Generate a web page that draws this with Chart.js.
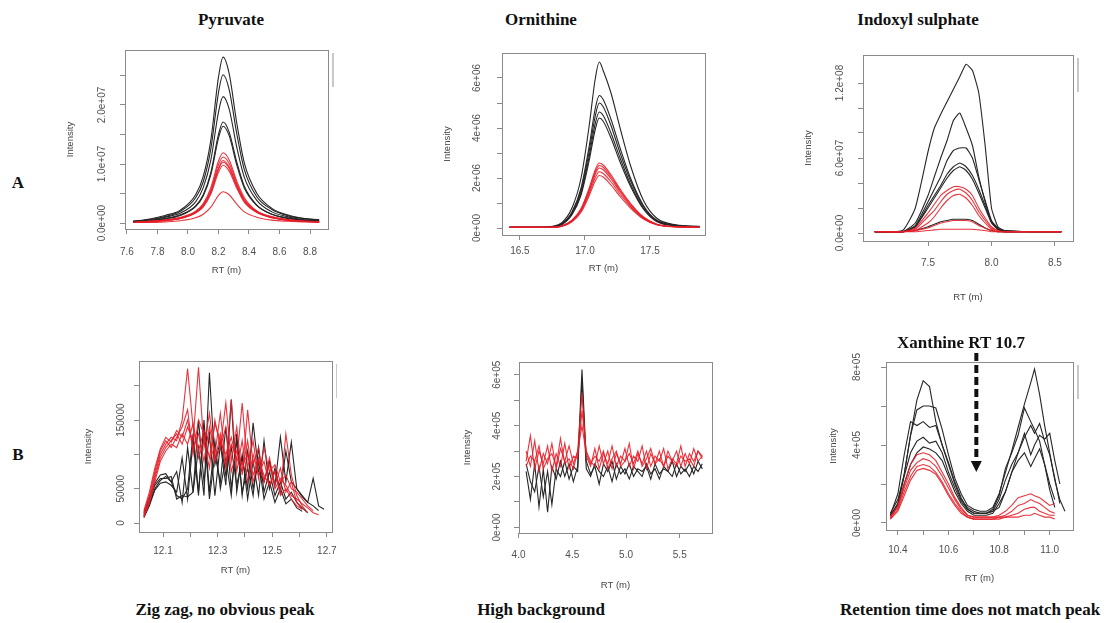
<!DOCTYPE html>
<html lang="en">
<head>
<meta charset="UTF-8">
<title>Peak shapes</title>
<script src="https://cdn.jsdelivr.net/npm/chart.js"></script>
<style>
  body { margin: 0; background: #fff; }
  #page { position: relative; width: 1120px; height: 623px; overflow: hidden; background: #fff; }
  .panel { position: absolute; }
  .lbl {
    position: absolute; white-space: nowrap; color: #111;
    font-family: "Liberation Serif", "DejaVu Serif", serif; font-weight: bold; font-size: 17px;
    transform: translate(-50%, -50%);
  }
</style>
</head>
<body>
<div id="page"></div>

<script>
  // ---- data (y in the units noted) ----
  // A: Pyruvate (1e6)
  const pyrX = [7.64, 7.75, 7.85, 7.95, 8.05, 8.10, 8.15, 8.20, 8.23, 8.27, 8.32, 8.37, 8.45, 8.55, 8.65, 8.75, 8.86];
  const pyrBlack = [
    [0.3, 0.7, 1.3, 2.2, 4.8, 7.9, 14.1, 24.7, 28.1, 25.3, 16.9, 10.1, 5.1, 2.5, 1.4, 0.8, 0.6],
    [0.3, 0.6, 1.1, 2.0, 4.3, 7.0, 12.6, 22.1, 25.1, 22.6, 15.1, 9.0, 4.5, 2.3, 1.3, 0.8, 0.5],
    [0.3, 0.5, 1.0, 1.7, 3.6, 6.0, 10.7, 18.8, 21.4, 19.3, 12.8, 7.7, 3.9, 1.9, 1.1, 0.6, 0.4],
    [0.2, 0.4, 0.8, 1.4, 2.9, 4.8, 8.6, 15.0, 17.1, 15.4, 10.3, 6.2, 3.1, 1.5, 0.9, 0.5, 0.3],
    [0.2, 0.4, 0.7, 1.3, 2.8, 4.6, 8.2, 14.4, 16.4, 14.8, 9.8, 5.9, 3.0, 1.5, 0.8, 0.5, 0.3]
  ];
  const pyrRed = [
    [0.1, 0.3, 0.5, 1.0, 2.0, 3.3, 6.0, 10.5, 11.9, 10.7, 7.1, 4.3, 2.1, 1.1, 0.6, 0.4, 0.2],
    [0.1, 0.3, 0.5, 0.9, 1.9, 3.1, 5.6, 9.9, 11.2, 10.1, 6.7, 4.0, 2.0, 1.0, 0.6, 0.3, 0.2],
    [0.1, 0.3, 0.5, 0.8, 1.8, 3.0, 5.3, 9.3, 10.6, 9.5, 6.4, 3.8, 1.9, 1.0, 0.5, 0.3, 0.2],
    [0.1, 0.3, 0.5, 0.8, 1.8, 2.9, 5.2, 9.1, 10.3, 9.3, 6.2, 3.7, 1.9, 0.9, 0.5, 0.3, 0.2],
    [0.1, 0.2, 0.4, 0.8, 1.7, 2.7, 4.9, 8.6, 9.8, 8.8, 5.9, 3.5, 1.8, 0.9, 0.5, 0.3, 0.2],
    [0.1, 0.1, 0.2, 0.4, 0.9, 1.5, 2.7, 4.7, 5.3, 4.8, 3.2, 1.9, 1.0, 0.5, 0.3, 0.2, 0.1]
  ];

  // A: Ornithine (1e6)
  const ornX = [16.42, 16.6, 16.75, 16.82, 16.9, 16.97, 17.03, 17.08, 17.11, 17.14, 17.2, 17.27, 17.35, 17.45, 17.55, 17.7, 17.88];
  const ornBlack = [
    [0.03, 0.03, 0.07, 0.2, 0.8, 2.0, 4.0, 6.0, 6.64, 6.3, 5.4, 4.0, 2.5, 1.1, 0.4, 0.13, 0.07],
    [0.03, 0.03, 0.05, 0.16, 0.64, 1.6, 3.2, 4.8, 5.3, 5.14, 4.35, 3.2, 2.0, 0.9, 0.32, 0.11, 0.05],
    [0.03, 0.03, 0.05, 0.15, 0.6, 1.5, 3.0, 4.5, 5.0, 4.85, 4.1, 3.0, 1.9, 0.85, 0.3, 0.1, 0.05],
    [0.03, 0.03, 0.05, 0.14, 0.56, 1.4, 2.8, 4.2, 4.64, 4.5, 3.8, 2.8, 1.76, 0.79, 0.28, 0.09, 0.05],
    [0.03, 0.03, 0.04, 0.13, 0.53, 1.32, 2.64, 3.96, 4.4, 4.27, 3.6, 2.64, 1.67, 0.75, 0.26, 0.09, 0.04]
  ];
  const ornRed = [
    [0.03, 0.03, 0.03, 0.08, 0.31, 0.78, 1.56, 2.34, 2.6, 2.52, 2.13, 1.56, 0.99, 0.44, 0.16, 0.05, 0.03],
    [0.03, 0.03, 0.03, 0.08, 0.3, 0.75, 1.5, 2.25, 2.5, 2.43, 2.05, 1.5, 0.95, 0.43, 0.15, 0.05, 0.03],
    [0.03, 0.03, 0.03, 0.07, 0.29, 0.72, 1.44, 2.16, 2.4, 2.33, 1.97, 1.44, 0.91, 0.41, 0.14, 0.05, 0.03],
    [0.03, 0.03, 0.03, 0.07, 0.27, 0.68, 1.35, 2.03, 2.25, 2.18, 1.85, 1.35, 0.86, 0.38, 0.14, 0.05, 0.03],
    [0.03, 0.03, 0.03, 0.06, 0.25, 0.63, 1.26, 1.89, 2.1, 2.04, 1.72, 1.26, 0.8, 0.36, 0.13, 0.04, 0.03]
  ];

  // A: Indoxyl sulphate (1e7)
  const indX = [7.08, 7.3, 7.4, 7.5, 7.55, 7.6, 7.65, 7.7, 7.75, 7.8, 7.85, 7.9, 7.95, 8.0, 8.05, 8.1, 8.3, 8.55];
  const indBlack = [
    [0.1, 0.2, 2.0, 6.5, 8.4, 9.5, 10.5, 11.5, 12.5, 13.5, 13.0, 11.2, 7.0, 2.0, 0.5, 0.2, 0.1, 0.1],
    [0.1, 0.1, 0.8, 3.0, 4.5, 6.0, 7.4, 9.0, 9.6, 8.4, 7.0, 4.5, 2.5, 0.9, 0.3, 0.2, 0.1, 0.1],
    [0.1, 0.1, 0.6, 2.5, 3.5, 4.5, 5.8, 6.6, 6.8, 6.8, 6.0, 4.3, 2.6, 1.0, 0.4, 0.2, 0.1, 0.1],
    [0.1, 0.1, 0.5, 2.2, 3.0, 3.8, 4.7, 5.3, 5.6, 5.3, 4.6, 3.5, 2.2, 0.9, 0.3, 0.1, 0.1, 0.1],
    [0.1, 0.1, 0.5, 2.0, 2.8, 3.6, 4.4, 5.0, 5.3, 5.0, 4.3, 3.2, 2.0, 0.8, 0.3, 0.1, 0.1, 0.1],
    [0.1, 0.1, 0.2, 0.5, 0.7, 0.9, 1.0, 1.1, 1.1, 1.1, 1.0, 0.7, 0.4, 0.2, 0.1, 0.1, 0.1, 0.1]
  ];
  const indRed = [
    [0.1, 0.1, 0.4, 1.6, 2.3, 3.0, 3.4, 3.7, 3.7, 3.5, 3.0, 2.0, 1.2, 0.5, 0.2, 0.1, 0.1, 0.1],
    [0.1, 0.1, 0.3, 1.3, 1.8, 2.5, 3.1, 3.4, 3.5, 3.2, 2.6, 1.7, 1.0, 0.4, 0.2, 0.1, 0.1, 0.1],
    [0.1, 0.1, 0.2, 0.8, 1.3, 2.0, 2.6, 3.0, 3.1, 2.8, 2.2, 1.4, 0.8, 0.3, 0.1, 0.1, 0.1, 0.1],
    [0.1, 0.1, 0.2, 0.4, 0.6, 0.8, 0.9, 1.0, 1.0, 1.0, 0.9, 0.6, 0.4, 0.2, 0.1, 0.1, 0.1, 0.1],
    [0.1, 0.1, 0.1, 0.2, 0.25, 0.3, 0.3, 0.3, 0.3, 0.3, 0.3, 0.25, 0.2, 0.1, 0.1, 0.1, 0.1, 0.1]
  ];

  // B: Pyruvate zig zag (1e3)
  const zigX = [12.03, 12.05, 12.07, 12.09, 12.11, 12.13, 12.15, 12.17, 12.19, 12.21, 12.23, 12.25, 12.27, 12.29, 12.31, 12.33, 12.35,
                12.37, 12.39, 12.41, 12.43, 12.45, 12.47, 12.49, 12.51, 12.53, 12.55, 12.57, 12.59, 12.61, 12.63, 12.65, 12.67, 12.69];
  const zigBlack = [
    [12, 32, 55, 65, 65, 68, 35, 40, 38, 45, 110, 40, 219, 85, 120, 70, 110, 55, 95, 50, 146, 75, 60, 90, 55, 125, 60, 118, 50, 40, 30, 25, 18, null],
    [10, 28, 50, 62, 68, 60, 75, 30, 110, 45, 150, 60, 130, 40, 115, 55, 180, 45, 100, 35, 90, 40, 120, 50, 80, 45, 105, 60, 50, 38, 30, 65, 25, 20],
    [15, 38, 58, 70, 72, 60, 40, 35, 50, 130, 45, 140, 35, 100, 60, 140, 50, 120, 45, 80, 40, 110, 45, 75, 40, 60, 35, 45, 30, 22, 15, null, null, null],
    [8, 25, 48, 58, 60, 55, 45, 95, 35, 120, 40, 150, 45, 120, 50, 95, 40, 130, 40, 105, 50, 90, 35, 60, 30, 50, 28, 35, 22, 17, null, null, null, null]
  ];
  const zigRed = [
    [12, 35, 70, 100, 115, 125, 120, 150, 225, 140, 95, 120, 80, 150, 110, 175, 90, 140, 70, 165, 85, 110, 60, 95, 55, 80, 45, 60, 30, 20, null, null, null, null],
    [8, 30, 65, 95, 110, 120, 130, 115, 140, 120, 227, 110, 160, 90, 130, 80, 180, 75, 120, 60, 100, 70, 90, 55, 75, 45, 130, 70, 40, 25, 15, null, null, null],
    [15, 40, 75, 105, 120, 110, 125, 140, 165, 100, 150, 130, 95, 145, 120, 100, 125, 90, 175, 80, 120, 65, 110, 75, 85, 60, 70, 50, 45, 35, 25, 18, null, null],
    [10, 30, 60, 90, 105, 115, 110, 130, 115, 145, 105, 135, 120, 90, 110, 140, 75, 105, 85, 100, 70, 95, 60, 85, 50, 65, 55, 40, 35, 28, 22, 15, 12, null],
    [18, 45, 80, 108, 125, 118, 135, 125, 150, 110, 130, 90, 140, 100, 160, 85, 115, 95, 75, 120, 60, 90, 70, 55, 75, 40, 50, 35, 25, 20, null, null, null, null]
  ];

  // B: High background (1e5)
  const bgX = [4.07, 4.11, 4.15, 4.19, 4.23, 4.27, 4.31, 4.35, 4.39, 4.43, 4.47, 4.51, 4.55, 4.59, 4.63, 4.67, 4.71, 4.75, 4.79, 4.83, 4.87,
               4.91, 4.95, 4.99, 5.03, 5.07, 5.11, 5.15, 5.19, 5.23, 5.27, 5.31, 5.35, 5.39, 5.43, 5.47, 5.51, 5.55, 5.59, 5.63, 5.67, 5.71];
  const bgBlack = [
    [2.2, 1.1, 2.5, 0.8, 2.3, 0.6, 2.4, 1.9, 2.6, 2.0, 2.5, 1.8, 2.4, 6.2, 2.6, 2.1, 2.4, 1.7, 2.5, 2.2, 2.6, 1.9, 2.4, 2.1, 2.5, 2.0, 2.3, 2.2, 2.4, 1.9, 2.5, 2.1, 2.3, 2.2, 2.6, 2.0, 2.4, 2.2, 2.5, 2.1, 2.6, 2.3],
    [2.5, 1.8, 1.4, 2.4, 1.2, 2.2, 0.9, 2.3, 2.0, 2.6, 1.9, 2.4, 2.2, 5.8, 2.3, 2.0, 2.5, 2.2, 2.0, 2.4, 1.8, 2.5, 2.1, 2.3, 1.9, 2.4, 2.2, 2.0, 2.5, 2.1, 2.3, 1.9, 2.4, 2.2, 2.0, 2.5, 2.1, 2.3, 2.0, 2.4, 2.2, 2.5]
  ];
  const bgRed = [
    [3.0, 2.4, 3.4, 2.2, 2.9, 2.5, 3.3, 2.3, 3.1, 2.6, 3.2, 2.5, 3.0, 5.3, 2.8, 2.4, 3.1, 2.3, 2.9, 2.5, 3.2, 2.4, 2.8, 2.6, 3.3, 2.3, 2.9, 2.5, 3.0, 2.4, 2.8, 2.6, 3.1, 2.3, 2.7, 2.5, 3.2, 2.4, 2.9, 2.6, 3.0, 2.7],
    [2.6, 3.6, 2.3, 3.0, 2.5, 3.2, 2.2, 2.9, 2.4, 3.3, 2.3, 2.8, 2.7, 4.6, 3.0, 2.6, 2.4, 3.2, 2.5, 3.0, 2.3, 2.9, 2.5, 3.1, 2.4, 2.8, 2.6, 3.2, 2.3, 2.9, 2.5, 3.0, 2.4, 2.8, 2.6, 3.0, 2.4, 2.9, 2.5, 3.1, 2.6, 2.8],
    [2.4, 2.8, 2.6, 3.2, 2.3, 2.7, 2.9, 2.4, 3.5, 2.5, 2.7, 2.3, 3.0, 4.0, 2.9, 2.5, 2.8, 2.6, 3.0, 2.3, 2.7, 3.0, 2.4, 2.6, 2.9, 2.5, 3.0, 2.4, 2.7, 3.1, 2.5, 2.7, 2.4, 3.0, 2.6, 2.4, 2.8, 2.6, 2.7, 2.4, 3.0, 2.8]
  ];

  // B: Xanthine (1e5)
  const xanX = [10.37, 10.40, 10.425, 10.45, 10.475, 10.50, 10.525, 10.55, 10.575, 10.60, 10.625, 10.65, 10.675, 10.70, 10.725,
                10.75, 10.775, 10.80, 10.825, 10.85, 10.875, 10.90, 10.925, 10.94, 10.96, 10.98, 11.00, 11.02, 11.04, 11.06];
  const xanBlack = [
    [0.5, 1.2, 2.5, 4.5, 6.3, 7.3, 7.0, 5.2, 4.0, 3.1, 2.1, 1.3, 0.7, 0.5, 0.5, 0.5, 0.6, 0.8, 1.6, 2.6, 3.6, 4.4, 5.0, 4.6, 5.1, 4.2, 3.5, 2.3, 1.0, null],
    [0.4, 1.0, 2.5, 4.5, 5.8, 6.0, 6.0, 5.9, 4.8, 3.5, 2.3, 1.5, 0.9, 0.7, 0.6, 0.6, 0.8, 1.5, 2.6, 3.7, 4.9, 6.1, 7.2, 7.9, 6.6, 5.0, 3.6, 2.2, 1.2, 0.6],
    [0.4, 1.5, 3.5, 5.2, 5.0, 5.2, 4.9, 5.0, 4.0, 3.0, 2.0, 1.2, 0.8, 0.6, 0.5, 0.5, 0.7, 1.4, 2.8, 3.6, 4.5, 5.9, 5.2, 4.8, 4.2, 3.0, 1.7, 0.8, null, null],
    [0.3, 1.0, 2.4, 3.6, 4.2, 4.4, 4.1, 4.2, 3.6, 2.6, 1.8, 1.1, 0.7, 0.5, 0.5, 0.5, 0.6, 1.2, 2.2, 3.0, 3.6, 4.6, 3.5, 4.0, 4.5, 4.3, 4.6, 3.2, 2.0, null],
    [0.3, 0.9, 2.0, 3.0, 3.6, 3.9, 3.8, 3.6, 3.2, 2.4, 1.6, 1.0, 0.6, 0.4, 0.4, 0.4, 0.5, 1.0, 1.6, 2.6, 3.2, 3.6, 2.9, 3.3, 3.8, 3.0, 2.0, 1.2, null, null]
  ];
  const xanRed = [
    [0.3, 0.9, 2.0, 3.0, 3.5, 3.6, 3.5, 3.2, 2.6, 2.0, 1.3, 0.8, 0.4, 0.3, 0.3, 0.3, 0.3, 0.4, 0.6, 0.9, 1.3, 1.4, 1.5, 1.4, 1.3, 1.1, 0.9, 1.0, null, null],
    [0.3, 0.8, 1.8, 2.7, 3.1, 3.3, 3.2, 2.9, 2.4, 1.8, 1.2, 0.7, 0.4, 0.3, 0.3, 0.3, 0.3, 0.3, 0.4, 0.6, 0.9, 1.0, 1.2, 1.1, 1.0, 0.8, 0.6, 0.5, null, null],
    [0.2, 0.7, 1.6, 2.4, 2.9, 3.0, 2.9, 2.6, 2.1, 1.5, 1.0, 0.6, 0.3, 0.2, 0.2, 0.2, 0.2, 0.3, 0.3, 0.4, 0.5, 0.7, 0.8, 0.8, 0.6, 0.5, 0.4, 0.4, null, null],
    [0.2, 0.6, 1.4, 2.2, 2.7, 2.8, 2.7, 2.5, 2.0, 1.4, 0.9, 0.5, 0.3, 0.2, 0.2, 0.2, 0.2, 0.2, 0.3, 0.3, 0.3, 0.4, 0.4, 0.5, 0.4, 0.3, 0.3, 0.2, null, null]
  ];
  const xanthineRT = 10.71;
  const arrowTip = 2.62;

  // ---- layout ----
  const TOP = 12, Y_W = 66, X_H = 66, TL = 5;
  const BLACK = '#262626', RED = 'rgba(230, 30, 40, 0.9)', AXIS = '#8a8a8a', TICK_TEXT = '#505050';
  const SANS = '"Liberation Sans", Arial, sans-serif';

  const panels = [
    { box: [125, 50, 328, 229], x: pyrX, black: pyrBlack, red: pyrRed, smooth: 0.4,
      xMin: 7.587, xMax: 8.918, yMin: -1.0, yMax: 29.3,
      xTicks: [7.6, 7.8, 8.0, 8.2, 8.4, 8.6, 8.8], xLabels: ['7.6', '7.8', '8.0', '8.2', '8.4', '8.6', '8.8'],
      yTicks: [0, 5, 10, 15, 20, 25], yLabels: ['0.0e+00', '', '1.0e+07', '', '2.0e+07', ''],
      gaps: { yLab: 23, yTitle: 55, xLab: 23, xTitle: 41 }, mark: true, padRight: 14 },
    { box: [502, 53, 705, 235], x: ornX, black: ornBlack, red: ornRed, smooth: 0.4,
      xMin: 16.362, xMax: 17.923, yMin: -0.28, yMax: 7.0,
      xTicks: [16.5, 17.0, 17.5], xLabels: ['16.5', '17.0', '17.5'],
      yTicks: [0, 1, 2, 3, 4, 5, 6], yLabels: ['0e+00', '', '2e+06', '', '4e+06', '', '6e+06'],
      gaps: { yLab: 25, yTitle: 55, xLab: 16, xTitle: 33 }, mark: false, padRight: 14 },
    { box: [863, 55, 1073, 241], x: indX, black: indBlack, red: indRed, smooth: 0.15,
      xMin: 6.988, xMax: 8.642, yMin: -0.64, yMax: 14.24,
      xTicks: [7.5, 8.0, 8.5], xLabels: ['7.5', '8.0', '8.5'],
      yTicks: [0, 2, 4, 6, 8, 10, 12], yLabels: ['0.0e+00', '', '', '6.0e+07', '', '', '1.2e+08'],
      gaps: { yLab: 23, yTitle: 55, xLab: 22, xTitle: 56 }, mark: true, padRight: 14 },
    { box: [139, 361, 332, 532], x: zigX, black: zigBlack, red: zigRed, smooth: 0,
      xMin: 12.012, xMax: 12.719, yMin: -13.1, yMax: 236.2,
      xTicks: [12.1, 12.2, 12.3, 12.4, 12.5, 12.6, 12.7], xLabels: ['12.1', '', '12.3', '', '12.5', '', '12.7'],
      yTicks: [0, 50, 100, 150, 200], yLabels: ['0', '50000', '', '150000', ''],
      gaps: { yLab: 18, yTitle: 51, xLab: 19, xTitle: 38 }, mark: true, padRight: 5 },
    { box: [519, 362, 712, 533], x: bgX, black: bgBlack, red: bgRed, smooth: 0,
      xMin: 4.004, xMax: 5.80, yMin: -0.22, yMax: 6.5,
      xTicks: [4.0, 4.5, 5.0, 5.5], xLabels: ['4.0', '4.5', '5.0', '5.5'],
      yTicks: [0, 1, 2, 3, 4, 5, 6], yLabels: ['0e+00', '', '2e+05', '', '4e+05', '', '6e+05'],
      gaps: { yLab: 22, yTitle: 52, xLab: 22, xTitle: 52 }, mark: false, padRight: 14 },
    { box: [886, 362, 1073, 530], x: xanX, black: xanBlack, red: xanRed, smooth: 0,
      xMin: 10.353, xMax: 11.092, yMin: -0.36, yMax: 8.26,
      xTicks: [10.4, 10.5, 10.6, 10.7, 10.8, 10.9, 11.0], xLabels: ['10.4', '', '10.6', '', '10.8', '', '11.0'],
      yTicks: [0, 2, 4, 6, 8], yLabels: ['0e+00', '', '4e+05', '', '8e+05'],
      gaps: { yLab: 29, yTitle: 53, xLab: 20, xTitle: 48 }, mark: true, padRight: 14,
      arrow: { x: xanthineRT, tip: arrowTip } }
  ];

  const texts = [
    ['Pyruvate', 231, 20], ['Ornithine', 541, 20], ['Indoxyl sulphate', 918, 20],
    ['A', 18, 183], ['B', 18, 455],
    ['Xanthine RT 10.7', 961, 343],
    ['Zig zag, no obvious peak', 225, 610], ['High background', 541, 610],
    ['Retention time does not match peak', 970, 610]
  ];

  // box, rotated y labels, clipped-legend stub and the arrow
  const rStyle = {
    id: 'rStyle',
    afterDatasetsDraw(chart, args, o) {
      const { ctx, chartArea: a } = chart;
      const x = chart.scales.x, y = chart.scales.y;
      ctx.save();
      ctx.strokeStyle = AXIS;
      ctx.lineWidth = 1;
      ctx.strokeRect(Math.round(a.left) + 0.5, Math.round(a.top) + 0.5,
                     Math.round(a.right - a.left), Math.round(a.bottom - a.top));
      ctx.fillStyle = TICK_TEXT;
      ctx.font = '10px ' + SANS;
      ctx.textAlign = 'center';
      ctx.textBaseline = 'middle';
      o.yTicks.forEach((v, i) => {
        if (!o.yLabels[i]) return;
        ctx.save();
        ctx.translate(a.left - o.gap, y.getPixelForValue(v));
        ctx.rotate(-Math.PI / 2);
        ctx.fillText(o.yLabels[i], 0, 0);
        ctx.restore();
      });
      if (o.mark) {
        ctx.fillStyle = '#c8c8c8';
        ctx.fillRect(a.right + 4, a.top + 3, 2, 34);
      }
      if (o.arrow) {
        const px = x.getPixelForValue(o.arrow.x);
        const tip = y.getPixelForValue(o.arrow.tip);
        ctx.strokeStyle = '#111';
        ctx.lineWidth = 4;
        ctx.setLineDash([8, 4]);
        ctx.beginPath();
        ctx.moveTo(px, a.top - 9);
        ctx.lineTo(px, tip - 9);
        ctx.stroke();
        ctx.setLineDash([]);
        ctx.fillStyle = '#111';
        ctx.beginPath();
        ctx.moveTo(px - 5.5, tip - 11);
        ctx.lineTo(px + 5.5, tip - 11);
        ctx.lineTo(px, tip);
        ctx.closePath();
        ctx.fill();
      }
      ctx.restore();
    }
  };

  const page = document.getElementById('page');

  function makePanel(p) {
    const W = p.box[2] - p.box[0] + Y_W + p.padRight;
    const H = TOP + (p.box[3] - p.box[1]) + X_H;
    const wrap = document.createElement('div');
    wrap.className = 'panel';
    wrap.style.left = (p.box[0] - Y_W) + 'px';
    wrap.style.top = (p.box[1] - TOP) + 'px';
    const cv = document.createElement('canvas');
    cv.width = W;
    cv.height = H;
    cv.style.width = W + 'px';
    cv.style.height = H + 'px';
    wrap.appendChild(cv);
    page.appendChild(wrap);

    const line = (data, color) => ({
      data, borderColor: color, borderWidth: 1.1, pointRadius: 0, fill: false,
      tension: p.smooth, cubicInterpolationMode: p.smooth > 0.3 ? 'monotone' : 'default', spanGaps: false
    });
    // red series listed first so they sit on top
    const datasets = p.red.map(d => line(d, RED)).concat(p.black.map(d => line(d, BLACK)));

    const titleLh = 9.5 * 1.2;
    new Chart(cv, {
      type: 'line',
      data: { labels: p.x, datasets },
      options: {
        responsive: false,
        animation: false,
        events: [],
        devicePixelRatio: 1,
        layout: { padding: { left: 0, top: TOP, right: p.padRight, bottom: 0 }, autoPadding: false },
        plugins: {
          legend: { display: false },
          tooltip: { enabled: false },
          rStyle: { yTicks: p.yTicks, yLabels: p.yLabels, gap: p.gaps.yLab, mark: p.mark, arrow: p.arrow }
        },
        scales: {
          x: {
            type: 'linear', min: p.xMin, max: p.xMax,
            afterBuildTicks: s => { s.ticks = p.xTicks.map(v => ({ value: v })); },
            afterFit: s => { s.height = X_H; s.paddingLeft = 0; s.paddingRight = 0; },
            ticks: {
              autoSkip: false, minRotation: 0, maxRotation: 0,
              padding: p.gaps.xLab - TL - 6, color: TICK_TEXT, font: { size: 10, family: SANS },
              callback: (v, i) => p.xLabels[i]
            },
            grid: { display: true, drawOnChartArea: false, drawTicks: true, tickLength: TL, color: AXIS },
            border: { display: false },
            title: { display: true, text: 'RT (m)', color: '#444', font: { size: 9.5, family: SANS },
                     padding: { top: 0, bottom: X_H - p.gaps.xTitle - titleLh / 2 } }
          },
          y: {
            min: p.yMin, max: p.yMax,
            afterBuildTicks: s => { s.ticks = p.yTicks.map(v => ({ value: v })); },
            afterFit: s => { s.width = Y_W; s.paddingTop = 0; s.paddingBottom = 0; },
            ticks: { display: false },
            grid: { display: true, drawOnChartArea: false, drawTicks: true, tickLength: TL, color: AXIS },
            border: { display: false },
            title: { display: true, text: 'Intensity', color: '#444', font: { size: 9.5, family: SANS },
                     padding: { top: Y_W - p.gaps.yTitle - titleLh / 2, bottom: 0 } }
          }
        }
      },
      plugins: [rStyle]
    });
  }

  panels.forEach(makePanel);

  texts.forEach(([t, x, y]) => {
    const d = document.createElement('div');
    d.className = 'lbl';
    d.textContent = t;
    d.style.left = x + 'px';
    d.style.top = y + 'px';
    page.appendChild(d);
  });
</script>
</body>
</html>
